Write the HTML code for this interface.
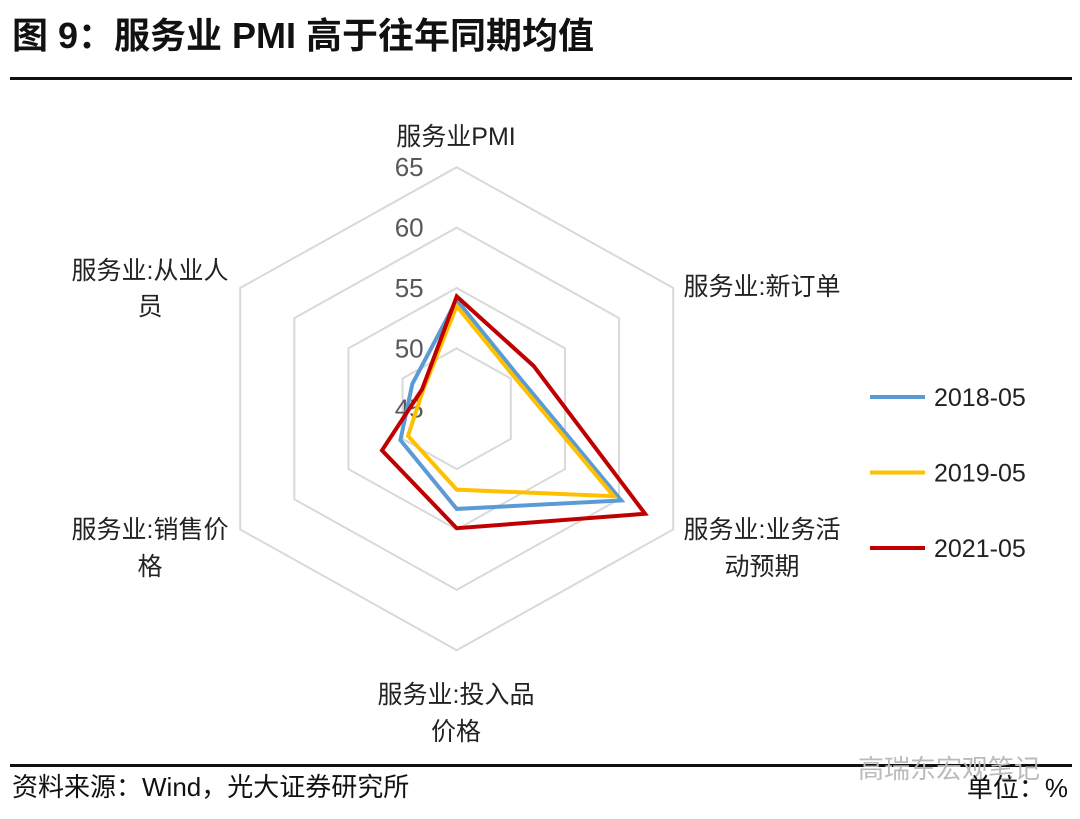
<!DOCTYPE html>
<html><head><meta charset="utf-8">
<style>
body{margin:0;width:1080px;height:814px;background:#fff;overflow:hidden;font-family:"Liberation Sans","Noto Sans CJK SC",sans-serif;}
</style></head>
<body>
<svg id="chart" width="1080" height="814" xmlns="http://www.w3.org/2000/svg" font-family="Liberation Sans, Noto Sans CJK SC, sans-serif">
<text x="12" y="48" font-size="36" font-weight="bold" fill="#111">图 9：服务业 PMI 高于往年同期均值</text>
<rect x="10" y="77" width="1062" height="3" fill="#111"/>
<g id="grid"></g>
<g id="series"></g>
<g id="labels" font-size="25" fill="#222"></g>
<rect x="10" y="764" width="1062" height="3" fill="#111"/>
<text x="12" y="796" font-size="26" fill="#111">资料来源：Wind，光大证券研究所</text>
<text x="858" y="778" font-size="26" fill="#bbb">高瑞东宏观笔记</text>
<text x="1068" y="797" font-size="26" fill="#111" text-anchor="end">单位：%</text>
</svg>
<script>
const categories=["服务业PMI","服务业:新订单","服务业:业务活动预期","服务业:投入品价格","服务业:销售价格","服务业:从业人员"];
const seriesNames=["2018-05","2019-05","2021-05"];
const values2018=[54.0,50.6,60.2,53.3,50.2,49.1];
const values2019=[53.5,50.3,59.5,51.7,49.5,48.1];
const values2021=[54.3,52.1,62.4,54.9,51.9,48.2];
const ticks=[45,50,55,60,65];
const colors=["#5b9bd5","#ffc000","#c00000"];
const NS="http://www.w3.org/2000/svg";
const cx=456.7,cy=408.7,RX=250,RY=241.5,vmin=45,vmax=65;
function pt(i,v){const a=-Math.PI/2+i*Math.PI/3;const r=(v-vmin)/(vmax-vmin);return [cx+Math.cos(a)*RX*r,cy+Math.sin(a)*RY*r];}
const grid=document.getElementById('grid');
ticks.slice(1).forEach(t=>{
 const p=document.createElementNS(NS,'polygon');
 p.setAttribute('points',categories.map((c,i)=>pt(i,t).join(',')).join(' '));
 p.setAttribute('fill','none');p.setAttribute('stroke','#d9d9d9');p.setAttribute('stroke-width','2');
 
 
 grid.appendChild(p);
});
ticks.forEach(t=>{
 const tx=document.createElementNS(NS,'text');
 const [x,y]=pt(0,t);
 tx.setAttribute('x',x-62);tx.setAttribute('y',y+9);
 tx.setAttribute('font-size','26');tx.setAttribute('fill','#595959');
 tx.textContent=t;
 
 
 grid.appendChild(tx);
});
const sg=document.getElementById('series');
[values2018,values2019,values2021].forEach((vals,k)=>{
 const p=document.createElementNS(NS,'polygon');
 p.setAttribute('points',vals.map((v,i)=>pt(i,v).join(',')).join(' '));
 p.setAttribute('fill','none');p.setAttribute('stroke',colors[k]);p.setAttribute('stroke-width','4');p.setAttribute('stroke-linejoin','miter');
 
 
 sg.appendChild(p);
 const ly=397+k*75.5;
 const l=document.createElementNS(NS,'line');
 l.setAttribute('x1',870);l.setAttribute('x2',925);l.setAttribute('y1',ly);l.setAttribute('y2',ly);
 l.setAttribute('stroke',colors[k]);l.setAttribute('stroke-width','4');
 
 
 sg.appendChild(l);
 const t=document.createElementNS(NS,'text');
 t.setAttribute('x',934);t.setAttribute('y',ly+9);t.setAttribute('font-size','25');t.setAttribute('fill','#222');
 t.textContent=seriesNames[k];
 
 
 sg.appendChild(t);
});
const labelPos=[[[456,145]],[[762,295]],[[762,538],[762,575]],[[456,703],[456,740]],[[150,538],[150,575]],[[150,279],[150,315]]];
const labelLines=[["服务业PMI"],["服务业:新订单"],["服务业:业务活","动预期"],["服务业:投入品","价格"],["服务业:销售价","格"],["服务业:从业人","员"]];
const lg=document.getElementById('labels');
labelLines.forEach((lines,i)=>{
 lines.forEach((s,j)=>{
  const t=document.createElementNS(NS,'text');
  t.setAttribute('x',labelPos[i][j][0]);t.setAttribute('y',labelPos[i][j][1]);
  t.setAttribute('text-anchor','middle');
  t.textContent=s;
  
  
  lg.appendChild(t);
 });
});
</script>
</body></html>
